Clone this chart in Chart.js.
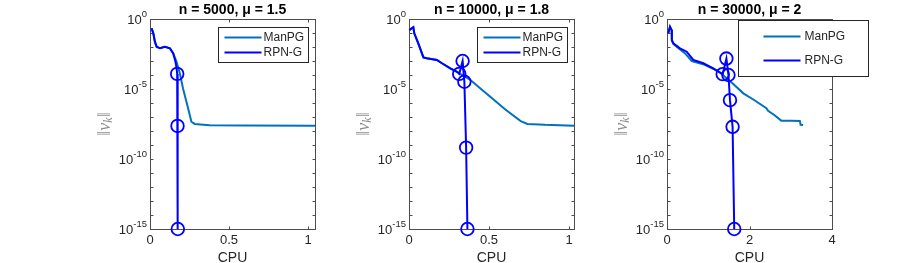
<!DOCTYPE html>
<html>
<head>
<meta charset="utf-8">
<script src="https://cdn.jsdelivr.net/npm/chart.js@4.4.1/dist/chart.umd.min.js"></script>
<style>
  html, body { margin: 0; padding: 0; background: #fff; overflow: hidden; }
  #wrap { position: relative; width: 919px; height: 263px; }
  #wrap canvas { position: absolute; top: 0; }
</style>
</head>
<body>
<div id="wrap">
  <canvas id="c0" width="285" height="263" style="left:90px"></canvas>
  <canvas id="c1" width="285" height="263" style="left:349px"></canvas>
  <canvas id="c2" width="285" height="263" style="left:607px"></canvas>
</div>
<script>
// ---- data ----
const titles = ['n = 5000, μ = 1.5', 'n = 10000, μ = 1.8', 'n = 30000, μ = 2'];
const seriesNames = ['ManPG', 'RPN-G'];
const xLabel = 'CPU';
const xTicks = [[0, 0.5, 1], [0, 0.5, 1], [0, 2, 4]];
const xMax = [1.044, 1.031, 4];
const yTickExps = [0, -5, -10, -15];

// n = 5000
const manpg1X = [0.01, 0.021, 0.031, 0.042, 0.063, 0.094, 0.126, 0.147, 0.168, 0.189, 0.209, 0.241, 0.262, 0.283, 0.377, 0.6, 1.044];
const manpg1Y = [2.2e-1, 9.5e-2, 2.4e-2, 1.05e-2, 8.1e-3, 1.05e-2, 8.1e-3, 3.5e-3, 8.9e-4, 1.3e-4, 1.1e-5, 4.2e-7, 4.6e-8, 3.2e-8, 2.6e-8, 2.45e-8, 2.4e-8];
const rpng1X = [0.01, 0.021, 0.031, 0.042, 0.063, 0.094, 0.126, 0.147, 0.16, 0.168, 0.172, 0.174, 0.176];
const rpng1Y = [2.2e-1, 9.5e-2, 2.4e-2, 1.05e-2, 8.1e-3, 1.05e-2, 8.1e-3, 3.5e-3, 1.0e-3, 3.2e-4, 1.2e-4, 2.3e-8, 1e-15];
const rpng1Newton = 10; // first index drawn with a circle

// n = 10000
const manpg2X = [0.002, 0.017, 0.027, 0.033, 0.058, 0.09, 0.111, 0.174, 0.206, 0.258, 0.3, 0.384, 0.45, 0.53, 0.6, 0.698, 0.74, 0.85, 1.031];
const manpg2Y = [1.6e-1, 2.2e-1, 2.6e-1, 9.5e-2, 1.8e-2, 1.8e-3, 1.55e-3, 1.2e-3, 6.9e-4, 3.0e-4, 1.7e-4, 4.4e-5, 1.0e-5, 1.7e-6, 3.6e-7, 5.1e-8, 3.2e-8, 2.75e-8, 2.4e-8];
const rpng2X = [0.002, 0.017, 0.027, 0.033, 0.058, 0.09, 0.111, 0.174, 0.206, 0.258, 0.3, 0.314, 0.335, 0.346, 0.357, 0.365];
const rpng2Y = [1.6e-1, 2.2e-1, 2.6e-1, 9.5e-2, 1.8e-2, 1.8e-3, 1.55e-3, 1.2e-3, 6.9e-4, 3.0e-4, 1.7e-4, 1.2e-4, 1.0e-3, 3.3e-5, 6.5e-10, 1e-15];
const rpng2Newton = 11;

// n = 30000
const manpg3X = [0.03, 0.073, 0.114, 0.118, 0.16, 0.3, 0.44, 0.6, 0.9, 1.12, 1.3, 1.6, 1.85, 2.1, 2.41, 2.45, 2.6, 2.77, 3.0, 3.22, 3.24, 3.3];
const manpg3Y = [9.5e-2, 2.8e-1, 1.6e-1, 2.8e-2, 1.6e-2, 7.1e-3, 3.5e-3, 1.0e-3, 5.6e-4, 2.8e-4, 1.4e-4, 2.4e-5, 4.9e-6, 1.7e-6, 4.2e-7, 2.8e-7, 1.4e-7, 5.5e-8, 5.4e-8, 5.1e-8, 2.8e-8, 2.7e-8];
const rpng3X = [0.03, 0.073, 0.114, 0.118, 0.153, 0.315, 0.478, 0.638, 0.88, 1.12, 1.35, 1.44, 1.49, 1.527, 1.59, 1.63];
const rpng3Y = [9.5e-2, 2.8e-1, 1.6e-1, 3.2e-2, 1.8e-2, 8.1e-3, 4.6e-3, 1.2e-3, 6.9e-4, 3.0e-4, 1.15e-4, 1.5e-3, 1.0e-4, 1.6e-6, 2.0e-8, 1e-15];
const rpng3Newton = 10;

const panels = [
  { manX: manpg1X, manY: manpg1Y, rpnX: rpng1X, rpnY: rpng1Y, newton: rpng1Newton },
  { manX: manpg2X, manY: manpg2Y, rpnX: rpng2X, rpnY: rpng2Y, newton: rpng2Newton },
  { manX: manpg3X, manY: manpg3Y, rpnX: rpng3X, rpnY: rpng3Y, newton: rpng3Newton },
];

// legend box placement relative to the axes box (px)
const legendBoxes = [
  { dx: 68, dy: 8, w: 90, h: 35, rows: [10, 25], line: [6, 43], text: 45 },
  { dx: 68, dy: 8, w: 90, h: 35, rows: [10, 25], line: [6, 43], text: 45 },
  { dx: 71, dy: 1, w: 130, h: 56, rows: [16, 40], line: [25, 62], text: 66 },
];

const SANS = '"Liberation Sans", Arial, Helvetica, sans-serif';
const SERIF = '"Liberation Serif", "DejaVu Serif", serif';
const AXIS_COLOR = '#4d4d4d';
const TEXT_COLOR = '#262626';

const toPoints = (xs, ys) => xs.map((x, i) => ({ x: x, y: ys[i] }));

// box, inward ticks, y tick labels with exponents, y label and legend
const matlabAxes = {
  id: 'matlabAxes',
  beforeDatasetsDraw(chart) {
    const { ctx, chartArea: a } = chart;
    const xs = chart.scales.x, ys = chart.scales.y;
    const L = Math.round(a.left) + 0.5, R = Math.round(a.right) + 0.5;
    const T = Math.round(a.top) + 0.5, B = Math.round(a.bottom) + 0.5;
    ctx.save();
    ctx.strokeStyle = AXIS_COLOR;
    ctx.lineWidth = 1;
    ctx.strokeRect(L, T, R - L, B - T);
    ctx.beginPath();
    xs.ticks.forEach(t => {
      const px = Math.round(xs.getPixelForValue(t.value)) + 0.5;
      ctx.moveTo(px, B); ctx.lineTo(px, B - 3);
      ctx.moveTo(px, T); ctx.lineTo(px, T + 3);
    });
    ys.ticks.forEach(t => {
      const py = Math.round(ys.getPixelForValue(t.value)) + 0.5;
      ctx.moveTo(L, py); ctx.lineTo(L + 3, py);
      ctx.moveTo(R, py); ctx.lineTo(R - 3, py);
    });
    ctx.stroke();

    // y tick labels: 10 with raised exponent
    ctx.fillStyle = TEXT_COLOR;
    ctx.textBaseline = 'middle';
    yTickExps.forEach(e => {
      const py = ys.getPixelForValue(Math.pow(10, e));
      const exp = String(e);
      ctx.font = '9.5px ' + SANS;
      const ew = ctx.measureText(exp).width;
      ctx.textAlign = 'left';
      const ex = a.left - 3 - ew;
      ctx.fillText(exp, ex, py - 5);
      ctx.font = '13px ' + SANS;
      ctx.textAlign = 'right';
      ctx.fillText('10', ex, py + 1);
    });

    // y axis label ||v_k||
    ctx.translate(a.left - 45, (a.top + a.bottom) / 2);
    ctx.rotate(-Math.PI / 2);
    ctx.fillStyle = '#8c8c8c';
    const parts = [
      { t: '‖', f: '18px ' + SERIF, dy: 0 },
      { t: 'v', f: 'italic 18px ' + SERIF, dy: 0 },
      { t: 'k', f: 'italic 12px ' + SERIF, dy: 4 },
      { t: '‖', f: '18px ' + SERIF, dy: 0 },
    ];
    let total = 0;
    parts.forEach(p => { ctx.font = p.f; p.w = ctx.measureText(p.t).width; total += p.w; });
    let cx = -total / 2;
    ctx.textAlign = 'left';
    ctx.textBaseline = 'middle';
    parts.forEach(p => { ctx.font = p.f; ctx.fillText(p.t, cx, p.dy); cx += p.w; });
    ctx.restore();
  },
  afterDatasetsDraw(chart, args, opts) {
    const { ctx, chartArea: a } = chart;
    const b = opts.box;
    const x0 = Math.round(a.left + b.dx) + 0.5, y0 = Math.round(a.top + b.dy) + 0.5;
    ctx.save();
    ctx.fillStyle = '#fff';
    ctx.fillRect(x0, y0, b.w, b.h);
    ctx.strokeStyle = TEXT_COLOR;
    ctx.lineWidth = 1;
    ctx.strokeRect(x0, y0, b.w, b.h);
    chart.data.datasets.forEach((ds, i) => {
      const y = y0 + b.rows[i];
      ctx.strokeStyle = ds.borderColor;
      ctx.lineWidth = ds.borderWidth;
      ctx.beginPath();
      ctx.moveTo(x0 + b.line[0], y);
      ctx.lineTo(x0 + b.line[1], y);
      ctx.stroke();
      ctx.fillStyle = TEXT_COLOR;
      ctx.font = '12px ' + SANS;
      ctx.textAlign = 'left';
      ctx.textBaseline = 'middle';
      ctx.fillText(ds.label, x0 + b.text, y + 0.5);
    });
    ctx.restore();
  }
};

panels.forEach((p, i) => {
  const ctx = document.getElementById('c' + i).getContext('2d');
  new Chart(ctx, {
    type: 'line',
    data: {
      datasets: [
        {
          label: seriesNames[0],
          data: toPoints(p.manX, p.manY),
          borderColor: '#0072BD',
          borderWidth: 2,
          pointRadius: 0,
          tension: 0,
          order: 1,
        },
        {
          label: seriesNames[1],
          data: toPoints(p.rpnX, p.rpnY),
          borderColor: '#0000FF',
          borderWidth: 2,
          pointRadius: c => (c.dataIndex >= p.newton ? 6.3 : 0),
          pointBorderColor: '#0000FF',
          pointBackgroundColor: 'rgba(0,0,0,0)',
          pointBorderWidth: 1.8,
          tension: 0,
          order: 0,
          clip: false,
        },
      ],
    },
    options: {
      responsive: false,
      animation: false,
      events: [],
      layout: { padding: { left: 0, right: 60, top: 0, bottom: 0 } },
      scales: {
        x: {
          type: 'linear',
          min: 0,
          max: xMax[i],
          afterBuildTicks: s => { s.ticks = xTicks[i].map(v => ({ value: v })); },
          afterFit: s => { s.height = 34; },
          grid: { display: false, drawTicks: false },
          border: { display: false },
          ticks: {
            font: { family: SANS, size: 13 },
            color: TEXT_COLOR,
            padding: 4,
            maxRotation: 0,
            autoSkip: false,
            callback: v => String(v),
          },
          title: {
            display: true,
            text: xLabel,
            font: { family: SANS, size: 14 },
            color: TEXT_COLOR,
            padding: { top: 0, bottom: -4 },
          },
        },
        y: {
          type: 'logarithmic',
          min: 1e-15,
          max: 1,
          afterBuildTicks: s => {
            const t = [];
            for (let e = 0; e >= -15; e--) t.push({ value: Math.pow(10, e) });
            s.ticks = t;
          },
          afterFit: s => { s.width = 60; },
          grid: { display: false, drawTicks: false },
          border: { display: false },
          ticks: { display: false },
        },
      },
      plugins: {
        legend: { display: false },
        tooltip: { enabled: false },
        title: {
          display: true,
          fullSize: false,
          text: titles[i],
          color: '#000',
          font: { family: SANS, size: 14, weight: 'bold' },
          padding: { top: 1.6, bottom: 0.6 },
        },
        matlabAxes: { box: legendBoxes[i] },
      },
    },
    plugins: [matlabAxes],
  });
});
</script>
</body>
</html>
